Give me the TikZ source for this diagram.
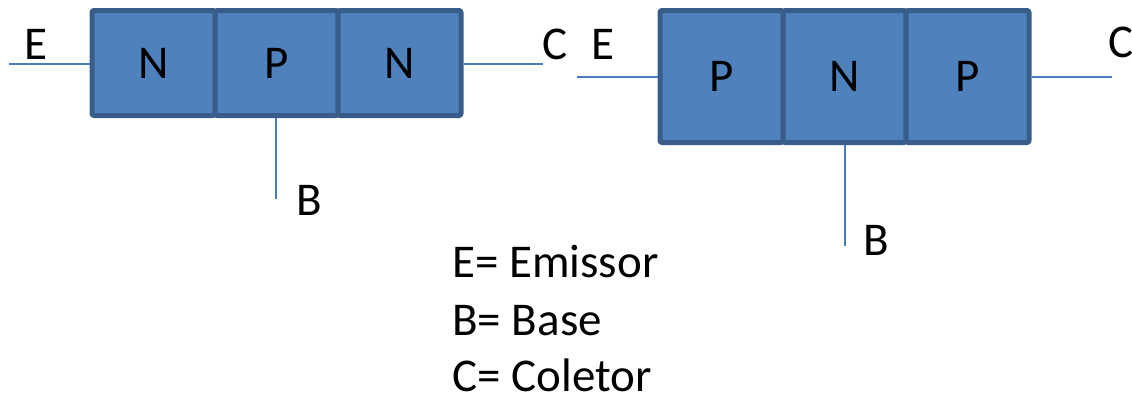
\documentclass[tikz,border=0pt]{standalone}
\usepackage{fontspec}
\setmainfont{Carlito}
\definecolor{JunFill}{HTML}{4F81BD}
\definecolor{JunEdge}{HTML}{385D8A}
\definecolor{JunWire}{HTML}{4A7EBB}

\begin{document}
\begin{tikzpicture}[x=0.5pt,y=-0.5pt,line cap=butt,line join=round,
  font=\fontsize{23.5}{28}\selectfont,
  layer/.style={draw=JunEdge,fill=JunFill,line width=2.5pt,rounded corners=1pt,minimum width=61.5pt,inner sep=0pt},
  wire/.style={JunWire,line width=1.1pt},
  lbl/.style={inner sep=0pt}]
  \useasboundingbox (0,0) rectangle (1132,398);
  % NPN
  \node[layer,minimum height=52.5pt] (nE) at (153.5,63) {N};
  \node[layer,minimum height=52.5pt] (nB) at (276.5,63) {P};
  \node[layer,minimum height=52.5pt] (nC) at (399.5,63) {N};
  \coordinate (nEend) at (9,64);
  \coordinate (nCend) at (543,64);
  \coordinate (nBend) at (276,199);
  \draw[wire] (nE.west |- nEend) -- (nEend);
  \draw[wire] (nC.east |- nCend) -- (nCend);
  \draw[wire] (nB.south -| nBend) -- (nBend);
  \node[lbl] (nElbl) at (36,44) {E};
  \node[lbl] (nClbl) at (555,44) {C};
  \node[lbl] (nBlbl) at (309,200) {B};
  % PNP
  \node[layer,minimum height=66pt] (pE) at (721.5,76.5) {P};
  \node[layer,minimum height=66pt] (pB) at (844.5,76.5) {N};
  \node[layer,minimum height=66pt] (pC) at (967.5,76.5) {P};
  \coordinate (pEend) at (577,77);
  \coordinate (pCend) at (1112,77);
  \coordinate (pBend) at (845,246);
  \draw[wire] (pE.west |- pEend) -- (pEend);
  \draw[wire] (pC.east |- pCend) -- (pCend);
  \draw[wire] (pB.south -| pBend) -- (pBend);
  \node[lbl] (pElbl) at (603,44) {E};
  \node[lbl] (pClbl) at (1121,42) {C};
  \node[lbl] (pBlbl) at (876,240) {B};
  % legenda
  \node[lbl,anchor=base west] (legE) at (452,277) {E= Emissor};
  \node[lbl,anchor=base west] (legB) at (452,335) {B= Base};
  \node[lbl,anchor=base west] (legC) at (452,391) {C= Coletor};
\end{tikzpicture}
\end{document}
